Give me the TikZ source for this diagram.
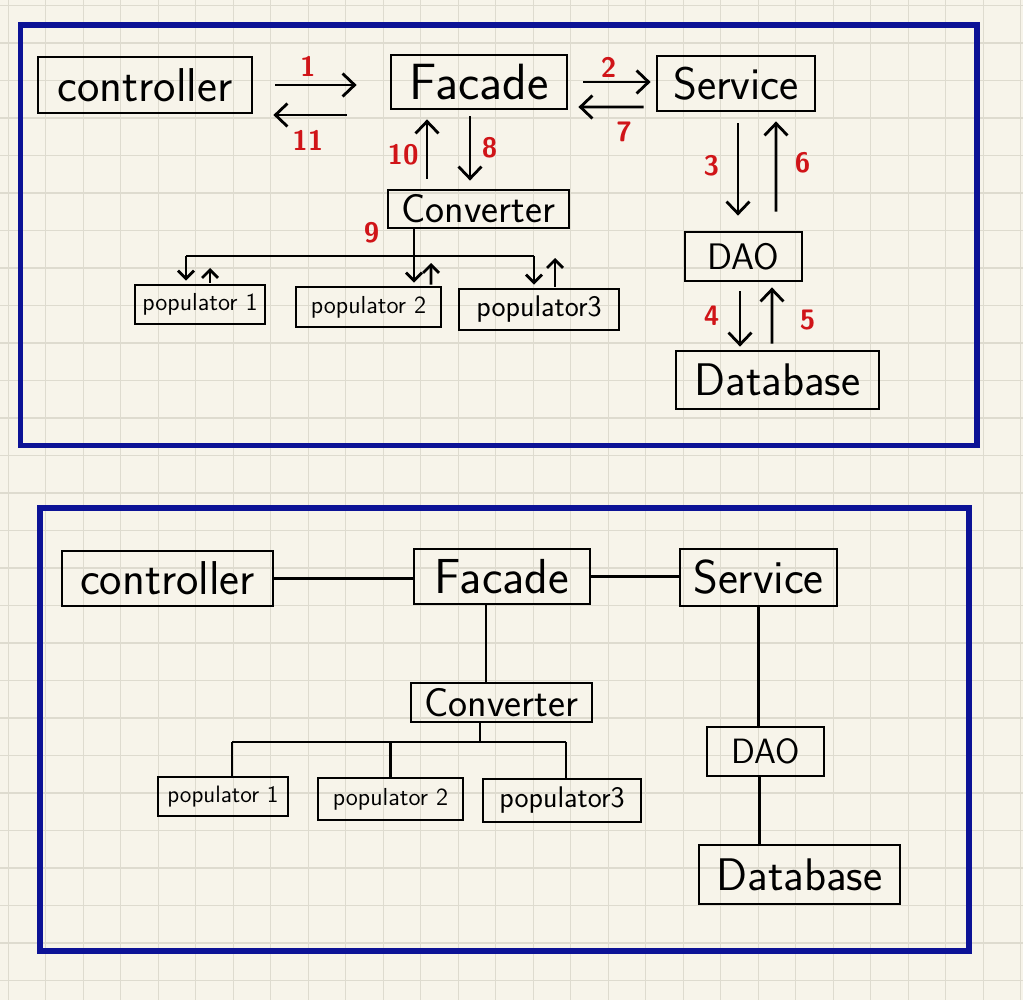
\documentclass[tikz,border=0pt]{standalone}
\usepackage{xcolor}
\usepackage{tikz}
\usetikzlibrary{calc}
\usetikzlibrary{arrows.meta}

\definecolor{paper}{RGB}{247,244,234}
\definecolor{gridline}{RGB}{222,219,207}
\definecolor{frameblue}{RGB}{12,18,150}
\definecolor{stepred}{RGB}{208,20,24}

\newcommand{\handsize}[1]{\sffamily\fontsize{#1}{#1}\selectfont}

\begin{document}
\begin{tikzpicture}[x=0.02cm,y=-0.02cm]
	\tikzstyle{box}=[draw,line width=1.6pt,inner sep=0pt]
	\tikzstyle{wire}=[line width=1.6pt]
	\tikzstyle{lbl}=[text=stepred,inner sep=1pt,font=\handsize{16}\bfseries]
	\tikzstyle{arr}=[-{Straight Barb[length=2.4mm,width=4.6mm]},line width=1.6pt]
	\tikzstyle{tick}=[-{Straight Barb[length=1.6mm,width=3.2mm]},line width=1.6pt]
	\tikzstyle{frame}=[draw=frameblue,line width=3.4pt]

	\useasboundingbox (0,0) rectangle (1023,1000);

	% paper with grid
	\fill[paper] (0,0) rectangle (1023,1000);
	\foreach \gx in {0,...,27}
		\draw[gridline,line width=0.6pt] (8.2+37.5*\gx,0) -- (8.2+37.5*\gx,1000);
	\foreach \gy in {0,...,26}
		\draw[gridline,line width=0.6pt] (0,5.5+37.5*\gy) -- (1023,5.5+37.5*\gy);

	\draw[frame] (20.5,25) rectangle (976.5,445.5);
	\draw[frame] (40,508) rectangle (969,951);

	% top panel: call order
	\node[box,minimum width=4.28cm,minimum height=1.12cm,font=\handsize{27}] (ctrl) at (145,85) {controller};
	\node[box,minimum width=3.52cm,minimum height=1.08cm,font=\handsize{29}] (facade) at (479,82) {Facade};
	\node[box,minimum width=3.16cm,minimum height=1.10cm,font=\handsize{26}] (service) at (736,83.5) {Service};
	\node[box,minimum width=3.62cm,minimum height=0.76cm,font=\handsize{23}] (conv) at (478.5,209) {Converter};
	\node[box,minimum width=2.60cm,minimum height=0.78cm,font=\handsize{14}] (popa) at (200,304.5) {populator 1};
	\node[box,minimum width=2.90cm,minimum height=0.80cm,font=\handsize{14}] (popb) at (368.5,307) {populator 2};
	\node[box,minimum width=3.20cm,minimum height=0.82cm,font=\handsize{17}] (popc) at (539,309.5) {populator3};
	\node[box,minimum width=2.34cm,minimum height=0.98cm,font=\handsize{21}] (dao) at (743.5,256.5) {DAO};
	\node[box,minimum width=4.06cm,minimum height=1.16cm,font=\handsize{26}] (db) at (777.5,380) {Database};

	\path[arr,shorten <=0.44cm,shorten >=0.66cm]
		(ctrl.east) edge node[lbl,pos=0.4,above=3pt] {1} (ctrl.east -| facade.west);
	\path[arr,shorten <=0.86cm,shorten >=0.4cm]
		($(facade.west)+(0,33)$) edge node[lbl,pos=0.6,below=7pt] {11} ($(ctrl.east)+(0,30)$);

	\path[arr,shorten <=0.3cm,shorten >=0.1cm]
		(facade.east) edge node[lbl,pos=0.46,above=1pt] {2} (facade.east -| service.west);
	\path[arr,shorten <=0.24cm,shorten >=0.2cm]
		($(service.west)+(0,23.5)$) edge node[lbl,pos=0.36,below=7pt] {7} ($(facade.east)+(0,25)$);

	\path[arr,shorten <=0.22cm,shorten >=0.3cm]
		($(service.south)+(2,0)$) edge node[lbl,pos=0.45,left=9pt] {3} ($(dao.north)+(-5.5,0)$);
	\path[arr,shorten <=0.38cm,shorten >=0.18cm]
		($(dao.north)+(32.5,0)$) edge node[lbl,pos=0.57,right=9pt] {6} ($(service.south)+(40,0)$);

	\path[arr,shorten <=0.18cm,shorten >=0.06cm]
		($(dao.south)+(-3.5,0)$) edge node[lbl,pos=0.49,left=10pt] {4} ($(db.north)+(-37.5,0)$);
	\path[arr,shorten <=0.12cm,shorten >=0.1cm]
		($(db.north)+(-5.5,0)$) edge node[lbl,pos=0.44,right=14pt] {5} ($(dao.south)+(28.5,0)$);

	\path[arr,shorten <=0.2cm,shorten >=0.18cm]
		($(conv.north)+(-51.5,0)$) edge node[lbl,pos=0.43,left=3pt] {10} ($(facade.south)+(-52,0)$);
	\path[arr,shorten <=0.12cm,shorten >=0.16cm]
		($(facade.south)+(-9,0)$) edge node[lbl,pos=0.48,right=5pt] {8} ($(conv.north)+(-8.5,0)$);

	% converter fans out to the populators
	\coordinate (busL) at (186,256);
	\coordinate (busM) at (414,256);
	\coordinate (busR) at (534,256);
	\draw[wire] (conv.south -| busM) -- (busM) node[lbl,pos=0.14,left=18pt] {9};
	\draw[wire] (busL) -- (busR);
	\draw[tick,shorten >=0.06cm] (busL) -- (busL |- popa.north);
	\draw[tick,shorten >=0.06cm] (busM) -- (busM |- popb.north);
	\draw[tick,shorten >=0.06cm] (busR) -- (busR |- popc.north);
	\draw[tick,shorten <=0.02cm,shorten >=0.24cm] ($(popa.north)+(10,0)$) -- ($(busL)+(24,0)$);
	\draw[tick,shorten <=0.02cm,shorten >=0.14cm] ($(popb.north)+(62.5,0)$) -- ($(busM)+(17,0)$);
	\draw[tick,shorten <=0.02cm,shorten >=0.04cm] ($(popc.north)+(16,0)$) -- ($(busR)+(21,0)$);

	% bottom panel: plain structure
	\node[box,minimum width=4.22cm,minimum height=1.10cm,font=\handsize{27}] (ctrlB) at (167.5,578.5) {controller};
	\node[box,minimum width=3.52cm,minimum height=1.10cm,font=\handsize{28}] (facadeB) at (502,576.5) {Facade};
	\node[box,minimum width=3.14cm,minimum height=1.14cm,font=\handsize{27}] (serviceB) at (758.5,577.5) {Service};
	\node[box,minimum width=3.62cm,minimum height=0.78cm,font=\handsize{23}] (convB) at (501.5,702.5) {Converter};
	\node[box,minimum width=2.60cm,minimum height=0.78cm,font=\handsize{13.5}] (popaB) at (223,796.5) {populator 1};
	\node[box,minimum width=2.90cm,minimum height=0.84cm,font=\handsize{14}] (popbB) at (390.5,799) {populator 2};
	\node[box,minimum width=3.16cm,minimum height=0.86cm,font=\handsize{17}] (popcB) at (562,800.5) {populator3};
	\node[box,minimum width=2.34cm,minimum height=0.98cm,font=\handsize{20}] (daoB) at (765.5,751.5) {DAO};
	\node[box,minimum width=4.02cm,minimum height=1.18cm,font=\handsize{26}] (dbB) at (799.5,874.5) {Database};

	\draw[wire] (ctrlB.east) -- (ctrlB.east -| facadeB.west);
	\draw[wire] (facadeB.east) -- (facadeB.east -| serviceB.west);
	\draw[wire] ($(facadeB.south)+(-16,0)$) -- ($(convB.north)+(-15.5,0)$);
	\draw[wire] (serviceB.south) -- (serviceB.south |- daoB.north);
	\draw[wire] ($(daoB.south)+(-6,0)$) -- ($(dbB.north)+(-40,0)$);

	\coordinate (busBL) at (232,742);
	\coordinate (busBM) at (480,742);
	\coordinate (busBR) at (566,742);
	\draw[wire] (convB.south -| busBM) -- (busBM);
	\draw[wire] (busBL) -- (busBR);
	\draw[wire] (busBL) -- (busBL |- popaB.north);
	\draw[wire] (popbB.north |- busBL) -- (popbB.north);
	\draw[wire] (busBR) -- (busBR |- popcB.north);
\end{tikzpicture}
\end{document}
